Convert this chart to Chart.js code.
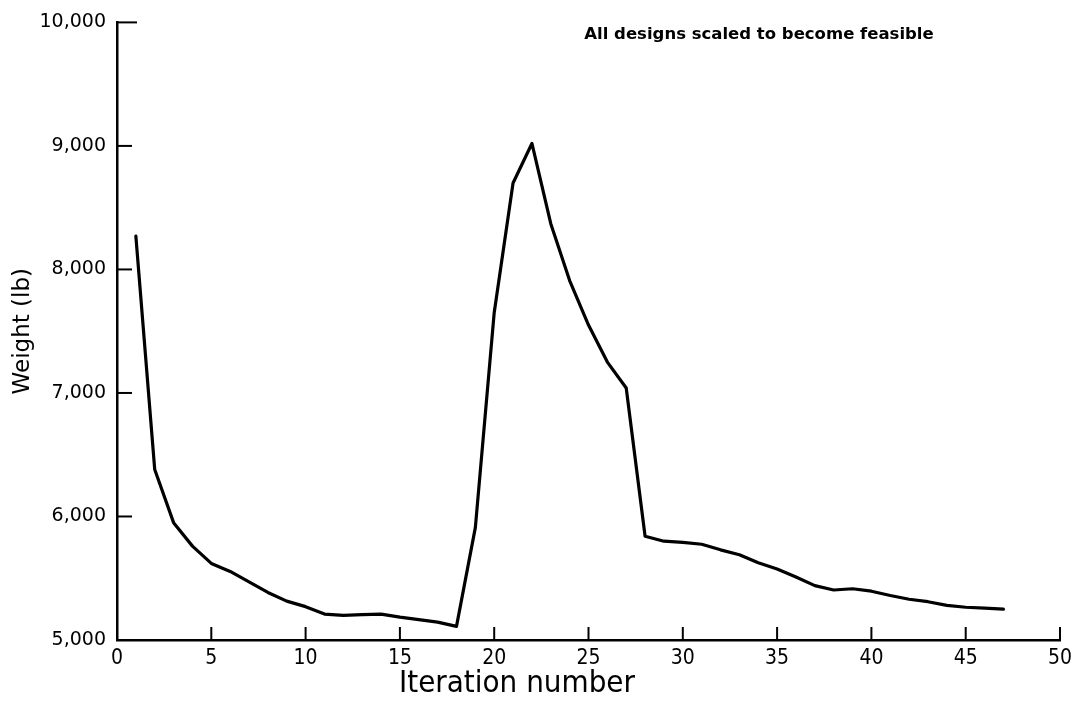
<!DOCTYPE html>
<html>
<head>
<meta charset="utf-8">
<title>Weight history</title>
<script src="https://cdn.jsdelivr.net/npm/chart.js@4.4.1/dist/chart.umd.min.js"></script>
<style>
  html, body { margin: 0; padding: 0; background: #fff; }
  #chart { display: block; }
</style>
</head>
<body>
<canvas id="chart" width="1084" height="701"></canvas>
<script>
// Weight of the design at each iteration
const iterations = [
  1, 2, 3, 4, 5, 6, 7, 8, 9, 10,
  11, 12, 13, 14, 15, 16, 17, 18, 19, 20,
  21, 22, 23, 24, 25, 26, 27, 28, 29, 30,
  31, 32, 33, 34, 35, 36, 37, 38, 39, 40,
  41, 42, 43, 44, 45, 46, 47
]
const weights = [
  8270, 6380, 5950, 5760, 5620, 5555, 5470, 5385, 5315, 5270,
  5210, 5200, 5205, 5210, 5185, 5165, 5145, 5110, 5910, 7650,
  8700, 9020, 8370, 7910, 7550, 7250, 7040, 5840, 5800, 5790,
  5775, 5730, 5690, 5625, 5575, 5510, 5440, 5405, 5415, 5395,
  5360, 5330, 5310, 5280, 5265, 5258, 5250
]
const xTicks = [0, 5, 10, 15, 20, 25, 30, 35, 40, 45, 50]
const yTicks = [5000, 6000, 7000, 8000, 9000, 10000]
const note = 'All designs scaled to become feasible'
const xTitle = 'Iteration number'
const yTitle = 'Weight (lb)'

const ink = '#000'
const narrow = "'Liberation Sans Narrow', 'DejaVu Sans Condensed', 'Liberation Sans', sans-serif"
const wide = "'DejaVu Sans', Verdana, sans-serif"

// tick marks point into the plot, like the original drawing
const inwardTicks = {
  id: 'inwardTicks',
  afterDraw (chart) {
    const { ctx, chartArea, scales } = chart
    ctx.save()
    ctx.strokeStyle = ink
    ctx.lineWidth = 2
    scales.x.ticks.forEach(t => {
      if (t.value === xTicks[0]) return
      const px = scales.x.getPixelForValue(t.value)
      ctx.beginPath()
      ctx.moveTo(px, chartArea.bottom)
      ctx.lineTo(px, chartArea.bottom - 13)
      ctx.stroke()
    })
    scales.y.ticks.forEach(t => {
      if (t.value === yTicks[0]) return
      const py = scales.y.getPixelForValue(t.value)
      ctx.beginPath()
      ctx.moveTo(chartArea.left, py)
      ctx.lineTo(chartArea.left + (t.value === yTicks[yTicks.length - 1] ? 20 : 15), py)
      ctx.stroke()
    })
    ctx.restore()
  }
}

// note in the top right corner and the x axis caption
const labels = {
  id: 'labels',
  afterDraw (chart) {
    const { ctx, chartArea } = chart
    ctx.save()
    ctx.fillStyle = ink
    ctx.textBaseline = 'middle'
    ctx.textAlign = 'center'
    ctx.font = 'bold 16.5px ' + wide
    ctx.fillText(note, chartArea.left + 642, chartArea.top + 12)
    ctx.font = '31px ' + narrow
    ctx.fillText(xTitle, chartArea.left + 400, chartArea.bottom + 44)
    ctx.restore()
  }
}

const config = {
  type: 'line',
  data: {
    datasets: [{
      data: iterations.map((x, i) => ({ x: x, y: weights[i] })),
      borderColor: ink,
      borderWidth: 3.2,
      pointRadius: 0,
      tension: 0,
      borderJoinStyle: 'round',
      borderCapStyle: 'round'
    }]
  },
  options: {
    responsive: false,
    devicePixelRatio: 1,
    animation: false,
    layout: { padding: { top: 20, right: 24, left: 0, bottom: 0 } },
    plugins: {
      legend: { display: false },
      tooltip: { enabled: false }
    },
    scales: {
      x: {
        type: 'linear',
        min: 0,
        max: 50,
        afterBuildTicks: s => { s.ticks = xTicks.map(v => ({ value: v })) },
        afterFit: s => { s.height = 61 },
        grid: { drawOnChartArea: false, drawTicks: false },
        border: { color: ink, width: 2.5 },
        ticks: {
          color: ink,
          padding: 6,
          maxRotation: 0,
          autoSkip: false,
          font: { family: narrow, size: 21 }
        }
      },
      y: {
        min: 5000,
        max: 10000,
        afterBuildTicks: s => { s.ticks = yTicks.map(v => ({ value: v })) },
        afterFit: s => { s.width = 117 },
        grid: { drawOnChartArea: false, drawTicks: false },
        border: { color: ink, width: 2.5 },
        ticks: {
          color: ink,
          padding: 11,
          font: { family: wide, size: 19 },
          callback: v => v.toLocaleString('en-US')
        },
        title: {
          display: true,
          text: yTitle,
          color: ink,
          padding: { top: 9, bottom: 0 },
          font: { family: wide, size: 23 }
        }
      }
    }
  },
  plugins: [inwardTicks, labels]
}

new Chart(document.getElementById('chart'), config)
</script>
</body>
</html>
